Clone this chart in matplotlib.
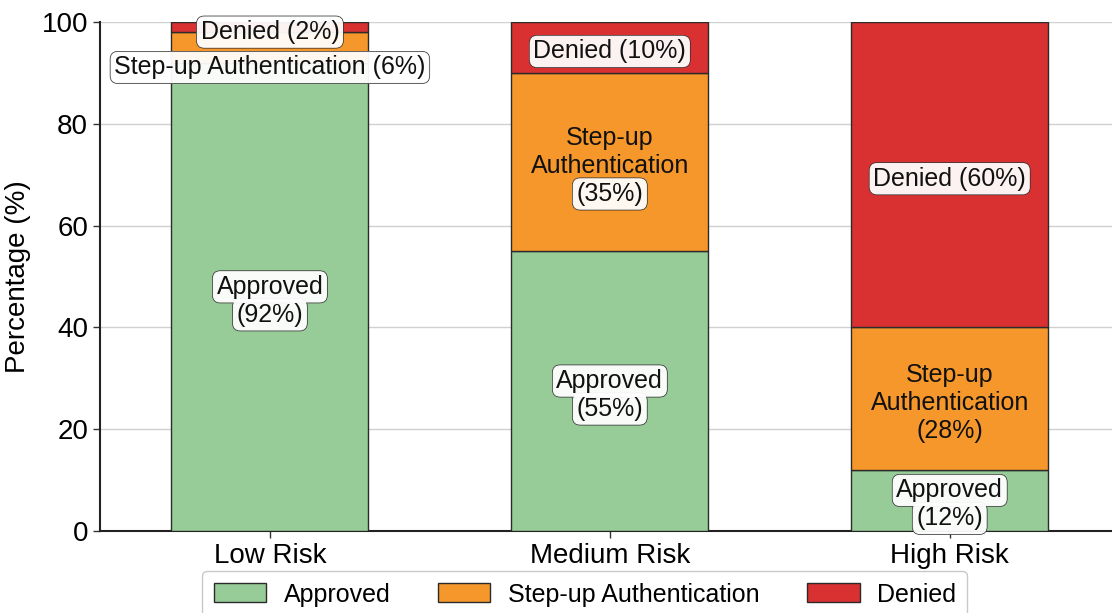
import matplotlib
matplotlib.use("Agg")
import matplotlib.pyplot as plt
import numpy as np

plt.rcParams["font.family"] = ["Liberation Sans", "DejaVu Sans"]

# Risk tiers and the share of each outcome (percent)
categories = ["Low Risk", "Medium Risk", "High Risk"]
approved = [92, 55, 12]
step_up = [6, 35, 28]
denied = [2, 10, 60]

series_names = ["Approved", "Step-up Authentication", "Denied"]
series_colors = ["#97cb97", "#f5972a", "#d93131"]

fig = plt.figure(figsize=(11.12, 6.13), dpi=100)
ax = fig.add_axes([0.0899, 0.1338, 0.917, 0.8303])

x = np.arange(len(categories))
width = 0.58
series = [approved, step_up, denied]
bottoms = np.zeros(len(categories))
bars = []
for vals, name, col in zip(series, series_names, series_colors):
    ax.bar(x, vals, width, bottom=bottoms, color=col, edgecolor="#2b2b2b",
           linewidth=1.0, label=name, zorder=3)
    bars.append((vals, bottoms.copy()))
    bottoms = bottoms + np.array(vals)

ax.set_xlim(-0.5, 2.5)
ax.set_ylim(0, 100)
ax.set_yticks([0, 20, 40, 60, 80, 100])
ax.set_xticks(x)
ax.set_xticklabels(categories)
ax.tick_params(axis="both", labelsize=20, length=5, width=1.0, color="#333333")
ax.set_ylabel("Percentage (%)", fontsize=20, labelpad=8)
ax.yaxis.grid(True, color="#d0d0d0", linewidth=1.0, zorder=0)
ax.set_axisbelow(True)
for s in ["top", "right"]:
    ax.spines[s].set_visible(False)
for s in ["left", "bottom"]:
    ax.spines[s].set_linewidth(1.5)
    ax.spines[s].set_color("#222222")

LABEL_FS = 18
LINE_STEP = 28  # pixels between label lines


def draw_label(xc, yc, lines, boxed, dy_px=0.0):
    """Draw a multi-line label where every line gets its own rounded box,
    merged so only the outer outline shows."""
    n = len(lines)
    pts_per_px = 72.0 / fig.dpi
    for i, (line, has_box) in enumerate(zip(lines, boxed)):
        off_px = ((n - 1) / 2.0 - i) * LINE_STEP + dy_px
        off = (0, off_px * pts_per_px)
        kw = dict(xy=(xc, yc), xytext=off, textcoords="offset points",
                  ha="center", va="center", fontsize=LABEL_FS)
        if has_box:
            ax.annotate(line, color="none", zorder=6,
                        bbox=dict(boxstyle="round,pad=0.15,rounding_size=0.3",
                                  fc="none", ec="#2b2b2b", lw=1.0), **kw)
            ax.annotate(line, color="none", zorder=7,
                        bbox=dict(boxstyle="round,pad=0.15,rounding_size=0.3",
                                  fc="white", ec="none", alpha=0.94), **kw)
        ax.annotate(line, color="#111111", zorder=8, **kw)


label_lines = {
    "Approved": lambda v: ["Approved", f"({v}%)"],
    "Step-up Authentication": lambda v: ["Step-up", "Authentication", f"({v}%)"],
    "Denied": lambda v: [f"Denied ({v}%)"],
}

for (vals, bots), name in zip(bars, series_names):
    for i, (v, b) in enumerate(zip(vals, bots)):
        yc = b + v / 2.0
        dy = -4.0
        if v < 8:
            lines = [f"{name} ({v}%)"]
            dy = -20 if name.startswith("Step") else -5
        else:
            lines = label_lines[name](v)
        boxed = [True] * len(lines)
        if name.startswith("Step") and v >= 8:
            boxed = [False, False, i == 1]
        draw_label(i, yc, lines, boxed, dy)

leg = fig.legend(loc="upper center", bbox_to_anchor=(0.526, 0.068), ncol=3,
                 fontsize=18, frameon=True, fancybox=True, edgecolor="#bbbbbb",
                 handlelength=2.1, handleheight=0.8, handletextpad=0.7,
                 columnspacing=1.9, borderpad=0.45, borderaxespad=0.0)
for h in leg.legend_handles:
    h.set_edgecolor("#2b2b2b")

fig.savefig("out.png", dpi=100)
